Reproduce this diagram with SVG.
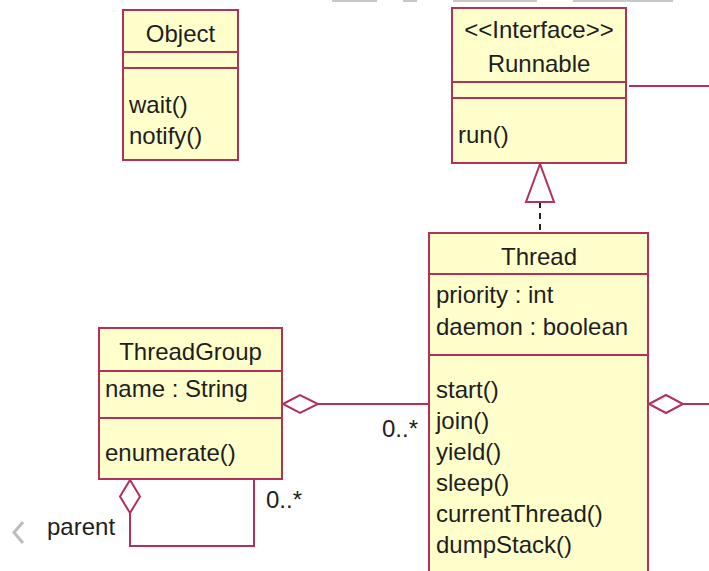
<svg xmlns="http://www.w3.org/2000/svg" width="709" height="571" viewBox="0 0 709 571">
<style>
.box{fill:#ffffcc;stroke:#b3305a;stroke-width:2}
.ln{fill:none;stroke:#b3305a;stroke-width:2}
.dia{fill:#ffffff;stroke:#b3305a;stroke-width:2}
text{font-family:"Liberation Sans",Arial,sans-serif;font-size:24px;fill:#1e1e1e}
.c{text-anchor:middle}
</style>
<rect width="709" height="571" fill="#ffffff"/>
<g id="topbar" fill="#c8c8c8">
<rect x="332" y="0" width="45" height="2"/>
<rect x="403" y="0" width="14" height="2"/>
<rect x="453" y="0" width="84" height="2"/>
<rect x="573" y="0" width="100" height="2"/>
</g>
<polyline points="23,522 14,532.5 23,543" fill="none" stroke="#bdbdbd" stroke-width="3"/>
<g id="connectors">
<line class="ln" x1="629" y1="86" x2="709" y2="86"/>
<line x1="540" y1="202" x2="540" y2="233" stroke="#222" stroke-width="2" stroke-dasharray="6,5"/>
<polygon class="dia" points="540,164 526,202 554,202"/>
<line class="ln" x1="318" y1="404" x2="429" y2="404"/>
<polygon class="dia" points="283,404 300,395 318,404 300,413"/>
<line class="ln" x1="683" y1="404" x2="709" y2="404"/>
<polygon class="dia" points="649,404 666,395 683,404 666,413"/>
<polyline class="ln" points="130,513 130,546 254,546 254,479"/>
<polygon class="dia" points="130,480 140,496.5 130,513 120,496.5"/>
<text x="382" y="437">0..*</text>
<text x="266" y="508">0..*</text>
<text x="47" y="535">parent</text>
</g>
<g id="Object">
<rect class="box" x="123" y="10" width="115" height="150"/>
<line class="ln" x1="123" y1="52" x2="238" y2="52"/>
<line class="ln" x1="123" y1="68" x2="238" y2="68"/>
<text class="c" x="180.5" y="42">Object</text>
<text x="129" y="113">wait()</text>
<text x="129" y="144">notify()</text>
</g>
<g id="Runnable">
<rect class="box" x="452" y="8" width="174" height="155"/>
<line class="ln" x1="452" y1="82" x2="626" y2="82"/>
<line class="ln" x1="452" y1="98" x2="626" y2="98"/>
<text class="c" x="539" y="38">&lt;&lt;Interface&gt;&gt;</text>
<text class="c" x="539" y="72">Runnable</text>
<text x="458" y="143">run()</text>
</g>
<g id="Thread">
<rect class="box" x="429" y="233" width="219" height="350"/>
<line class="ln" x1="429" y1="274" x2="648" y2="274"/>
<line class="ln" x1="429" y1="355" x2="648" y2="355"/>
<text class="c" x="539" y="265">Thread</text>
<text x="436" y="303">priority : int</text>
<text x="436" y="335">daemon : boolean</text>
<text x="436" y="398">start()</text>
<text x="436" y="429">join()</text>
<text x="436" y="460">yield()</text>
<text x="436" y="491">sleep()</text>
<text x="436" y="522">currentThread()</text>
<text x="436" y="553">dumpStack()</text>
</g>
<g id="ThreadGroup">
<rect class="box" x="99" y="328" width="183" height="151"/>
<line class="ln" x1="99" y1="371" x2="282" y2="371"/>
<line class="ln" x1="99" y1="418" x2="282" y2="418"/>
<text class="c" x="190.5" y="360">ThreadGroup</text>
<text x="105" y="397">name : String</text>
<text x="105" y="461">enumerate()</text>
</g>
</svg>
